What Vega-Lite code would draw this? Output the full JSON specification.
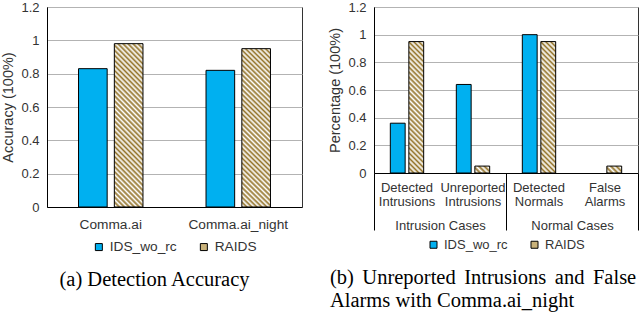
{
"$schema": "https://vega.github.io/schema/vega-lite/v6.json",
"autosize": {"type": "none"},
"params": [{"name": "width", "value": 591}, {"name": "height", "value": 200}],
"padding": {"left": 47, "top": 7, "right": 2, "bottom": 105},
"bounds": "flush",
"background": "white",
"spacing": 72,
"config": {
 "font": "Liberation Sans",
 "view": {"stroke": "#333", "strokeWidth": 1},
 "axis": {"labelFont": "Liberation Sans", "labelFontSize": 13, "labelColor": "#333", "titleFont": "Liberation Sans", "titleFontSize": 14.5, "titleFontWeight": "normal", "titleColor": "#333", "gridColor": "#b3b3b3", "domainColor": "#000", "ticks": false, "tickSize": 0},
 "legend": {"layout": {"anchor": "middle"}},
 "title": {"font": "Liberation Serif", "fontSize": 20.5, "fontWeight": "normal", "color": "#000"}
},
"resolve": {"scale": {"fill": "independent"}, "legend": {"fill": "independent"}},
"hconcat": [
{
 "width": 255, "height": 200,
 "title": {"text": "(a) Detection Accuracy", "orient": "bottom", "anchor": "middle", "offset": 16, "dx": -20},
 "data": {"values": [
  {"dataset": "Comma.ai", "series": "IDS_wo_rc", "value": 0.83},
  {"dataset": "Comma.ai", "series": "RAIDS", "value": 0.98},
  {"dataset": "Comma.ai_night", "series": "IDS_wo_rc", "value": 0.82},
  {"dataset": "Comma.ai_night", "series": "RAIDS", "value": 0.95}
 ]},
 "mark": {"type": "bar", "stroke": "#000", "strokeWidth": 1},
 "encoding": {
  "x": {"field": "dataset", "type": "nominal", "sort": null, "scale": {"paddingInner": 0, "paddingOuter": 0}, "axis": {"title": null, "labelAngle": 0, "labelPadding": 10, "labelFontSize": 13.7}},
  "xOffset": {"field": "series", "type": "nominal", "sort": ["IDS_wo_rc", "RAIDS"], "scale": {"paddingInner": 0.2, "paddingOuter": 0.88}},
  "y": {"field": "value", "type": "quantitative", "scale": {"domain": [0, 1.2]}, "axis": {"title": "Accuracy (100%)", "values": [0, 0.2, 0.4, 0.6, 0.8, 1, 1.2], "format": "~g", "labelPadding": 8, "titlePadding": 5, "grid": true}},
  "fill": {
   "field": "series", "type": "nominal", "sort": ["IDS_wo_rc", "RAIDS"],
   "scale": {"range": ["#00b0f0", "#c9b27a"]},
   "condition": {"test": "datum.series === 'RAIDS'", "value": {"gradient": "linear", "x1": 0, "y1": 1, "x2": 0.2028, "y2": -0.1416, "stops": [
{"offset":0,"color":"#94742a"},{"offset":0.0132,"color":"#ffffff"},{"offset":0.0263,"color":"#94742a"},{"offset":0.0395,"color":"#ffffff"},{"offset":0.0526,"color":"#94742a"},{"offset":0.0658,"color":"#ffffff"},{"offset":0.0789,"color":"#94742a"},{"offset":0.0921,"color":"#ffffff"},{"offset":0.1053,"color":"#94742a"},{"offset":0.1184,"color":"#ffffff"},{"offset":0.1316,"color":"#94742a"},{"offset":0.1447,"color":"#ffffff"},{"offset":0.1579,"color":"#94742a"},{"offset":0.1711,"color":"#ffffff"},{"offset":0.1842,"color":"#94742a"},{"offset":0.1974,"color":"#ffffff"},{"offset":0.2105,"color":"#94742a"},{"offset":0.2237,"color":"#ffffff"},{"offset":0.2368,"color":"#94742a"},{"offset":0.25,"color":"#ffffff"},{"offset":0.2632,"color":"#94742a"},{"offset":0.2763,"color":"#ffffff"},{"offset":0.2895,"color":"#94742a"},{"offset":0.3026,"color":"#ffffff"},{"offset":0.3158,"color":"#94742a"},{"offset":0.3289,"color":"#ffffff"},{"offset":0.3421,"color":"#94742a"},{"offset":0.3553,"color":"#ffffff"},{"offset":0.3684,"color":"#94742a"},{"offset":0.3816,"color":"#ffffff"},{"offset":0.3947,"color":"#94742a"},{"offset":0.4079,"color":"#ffffff"},{"offset":0.4211,"color":"#94742a"},{"offset":0.4342,"color":"#ffffff"},{"offset":0.4474,"color":"#94742a"},{"offset":0.4605,"color":"#ffffff"},{"offset":0.4737,"color":"#94742a"},{"offset":0.4868,"color":"#ffffff"},{"offset":0.5,"color":"#94742a"},{"offset":0.5132,"color":"#ffffff"},{"offset":0.5263,"color":"#94742a"},{"offset":0.5395,"color":"#ffffff"},{"offset":0.5526,"color":"#94742a"},{"offset":0.5658,"color":"#ffffff"},{"offset":0.5789,"color":"#94742a"},{"offset":0.5921,"color":"#ffffff"},{"offset":0.6053,"color":"#94742a"},{"offset":0.6184,"color":"#ffffff"},{"offset":0.6316,"color":"#94742a"},{"offset":0.6447,"color":"#ffffff"},{"offset":0.6579,"color":"#94742a"},{"offset":0.6711,"color":"#ffffff"},{"offset":0.6842,"color":"#94742a"},{"offset":0.6974,"color":"#ffffff"},{"offset":0.7105,"color":"#94742a"},{"offset":0.7237,"color":"#ffffff"},{"offset":0.7368,"color":"#94742a"},{"offset":0.75,"color":"#ffffff"},{"offset":0.7632,"color":"#94742a"},{"offset":0.7763,"color":"#ffffff"},{"offset":0.7895,"color":"#94742a"},{"offset":0.8026,"color":"#ffffff"},{"offset":0.8158,"color":"#94742a"},{"offset":0.8289,"color":"#ffffff"},{"offset":0.8421,"color":"#94742a"},{"offset":0.8553,"color":"#ffffff"},{"offset":0.8684,"color":"#94742a"},{"offset":0.8816,"color":"#ffffff"},{"offset":0.8947,"color":"#94742a"},{"offset":0.9079,"color":"#ffffff"},{"offset":0.9211,"color":"#94742a"},{"offset":0.9342,"color":"#ffffff"},{"offset":0.9474,"color":"#94742a"},{"offset":0.9605,"color":"#ffffff"},{"offset":0.9737,"color":"#94742a"},{"offset":0.9868,"color":"#ffffff"},{"offset":1,"color":"#94742a"}
   ]}},
   "legend": {"title": null, "orient": "bottom", "direction": "horizontal", "symbolType": "square", "symbolSize": 49, "symbolStrokeColor": "#000", "symbolStrokeWidth": 1, "labelFontSize": 13.7, "labelColor": "#333", "columnPadding": 20, "labelOffset": 4, "offset": 9,
    "encode": {"symbols": {"update": {"stroke": {"value": "#000"}, "strokeWidth": {"value": 1}, "fill": [{"test": "datum.value === 'RAIDS'", "value": {"gradient": "linear", "x1": 0, "y1": 1, "x2": 1, "y2": 0, "stops": [{"offset":0,"color":"#94742a"},{"offset":0.1667,"color":"#ffffff"},{"offset":0.3333,"color":"#94742a"},{"offset":0.5,"color":"#ffffff"},{"offset":0.6667,"color":"#94742a"},{"offset":0.8333,"color":"#ffffff"},{"offset":1,"color":"#94742a"}]}}, {"value": "#00b0f0"}]}}}
   }
  }
 }
},
{
 "width": 264, "height": 166,
 "title": {"text": ["(b) \u2006Unreported \u2006Intrusions \u2006and \u2006False", "Alarms with Comma.ai_night"], "orient": "bottom", "anchor": "start", "offset": 16, "dx": 2, "lineHeight": 23},
 "data": {"values": [
  {"group": "Intrusion Cases", "case": "Detected Intrusions", "series": "IDS_wo_rc", "value": 0.36},
  {"group": "Intrusion Cases", "case": "Detected Intrusions", "series": "RAIDS", "value": 0.95},
  {"group": "Intrusion Cases", "case": "Unreported Intrusions", "series": "IDS_wo_rc", "value": 0.64},
  {"group": "Intrusion Cases", "case": "Unreported Intrusions", "series": "RAIDS", "value": 0.05},
  {"group": "Normal Cases", "case": "Detected Normals", "series": "IDS_wo_rc", "value": 1.0},
  {"group": "Normal Cases", "case": "Detected Normals", "series": "RAIDS", "value": 0.95},
  {"group": "Normal Cases", "case": "False Alarms", "series": "IDS_wo_rc", "value": 0},
  {"group": "Normal Cases", "case": "False Alarms", "series": "RAIDS", "value": 0.05}
 ]},
 "encoding": {
  "y": {"field": "value", "type": "quantitative", "scale": {"domain": [0, 1.2]}, "axis": {"title": "Percentage (100%)", "values": [0, 0.2, 0.4, 0.6, 0.8, 1, 1.2], "format": "~g", "labelPadding": 8, "titlePadding": 5, "grid": true}}
 },
 "layer": [
  {
   "mark": {"type": "bar", "stroke": "#000", "strokeWidth": 1},
   "encoding": {
    "x": {"field": "case", "type": "nominal", "sort": ["Detected Intrusions", "Unreported Intrusions", "Detected Normals", "False Alarms"], "scale": {"paddingInner": 0, "paddingOuter": 0}, "axis": {"title": null, "labelAngle": 0, "labelExpr": "split(datum.label, ' ')", "labelLineHeight": 14, "labelPadding": 8}},
    "xOffset": {"field": "series", "type": "nominal", "sort": ["IDS_wo_rc", "RAIDS"], "scale": {"paddingInner": 0.2, "paddingOuter": 0.88}},
    "strokeOpacity": {"condition": {"test": "datum.value === 0", "value": 0}, "value": 1},
    "fill": {
     "field": "series", "type": "nominal", "sort": ["IDS_wo_rc", "RAIDS"],
     "scale": {"range": ["#00b0f0", "#c9b27a"]},
     "condition": [
      {"test": "datum.series === 'RAIDS' && datum.value > 0.5", "value": {"gradient": "linear", "x1": 0, "y1": 1, "x2": 0.1237, "y2": -0.0987, "stops": [
{"offset":0,"color":"#94742a"},{"offset":0.0172,"color":"#ffffff"},{"offset":0.0345,"color":"#94742a"},{"offset":0.0517,"color":"#ffffff"},{"offset":0.069,"color":"#94742a"},{"offset":0.0862,"color":"#ffffff"},{"offset":0.1034,"color":"#94742a"},{"offset":0.1207,"color":"#ffffff"},{"offset":0.1379,"color":"#94742a"},{"offset":0.1552,"color":"#ffffff"},{"offset":0.1724,"color":"#94742a"},{"offset":0.1897,"color":"#ffffff"},{"offset":0.2069,"color":"#94742a"},{"offset":0.2241,"color":"#ffffff"},{"offset":0.2414,"color":"#94742a"},{"offset":0.2586,"color":"#ffffff"},{"offset":0.2759,"color":"#94742a"},{"offset":0.2931,"color":"#ffffff"},{"offset":0.3103,"color":"#94742a"},{"offset":0.3276,"color":"#ffffff"},{"offset":0.3448,"color":"#94742a"},{"offset":0.3621,"color":"#ffffff"},{"offset":0.3793,"color":"#94742a"},{"offset":0.3966,"color":"#ffffff"},{"offset":0.4138,"color":"#94742a"},{"offset":0.431,"color":"#ffffff"},{"offset":0.4483,"color":"#94742a"},{"offset":0.4655,"color":"#ffffff"},{"offset":0.4828,"color":"#94742a"},{"offset":0.5,"color":"#ffffff"},{"offset":0.5172,"color":"#94742a"},{"offset":0.5345,"color":"#ffffff"},{"offset":0.5517,"color":"#94742a"},{"offset":0.569,"color":"#ffffff"},{"offset":0.5862,"color":"#94742a"},{"offset":0.6034,"color":"#ffffff"},{"offset":0.6207,"color":"#94742a"},{"offset":0.6379,"color":"#ffffff"},{"offset":0.6552,"color":"#94742a"},{"offset":0.6724,"color":"#ffffff"},{"offset":0.6897,"color":"#94742a"},{"offset":0.7069,"color":"#ffffff"},{"offset":0.7241,"color":"#94742a"},{"offset":0.7414,"color":"#ffffff"},{"offset":0.7586,"color":"#94742a"},{"offset":0.7759,"color":"#ffffff"},{"offset":0.7931,"color":"#94742a"},{"offset":0.8103,"color":"#ffffff"},{"offset":0.8276,"color":"#94742a"},{"offset":0.8448,"color":"#ffffff"},{"offset":0.8621,"color":"#94742a"},{"offset":0.8793,"color":"#ffffff"},{"offset":0.8966,"color":"#94742a"},{"offset":0.9138,"color":"#ffffff"},{"offset":0.931,"color":"#94742a"},{"offset":0.9483,"color":"#ffffff"},{"offset":0.9655,"color":"#94742a"},{"offset":0.9828,"color":"#ffffff"},{"offset":1,"color":"#94742a"}
      ]}},
      {"test": "datum.series === 'RAIDS'", "value": {"gradient": "linear", "x1": 0, "y1": 1, "x2": 1.205, "y2": 0.4383, "stops": [{"offset":0,"color":"#94742a"},{"offset":0.125,"color":"#ffffff"},{"offset":0.25,"color":"#94742a"},{"offset":0.375,"color":"#ffffff"},{"offset":0.5,"color":"#94742a"},{"offset":0.625,"color":"#ffffff"},{"offset":0.75,"color":"#94742a"},{"offset":0.875,"color":"#ffffff"},{"offset":1,"color":"#94742a"}]}}
     ],
     "legend": {"title": null, "orient": "bottom", "direction": "horizontal", "symbolType": "square", "symbolSize": 49, "symbolStrokeColor": "#000", "symbolStrokeWidth": 1, "labelFontSize": 13, "labelColor": "#333", "columnPadding": 20, "labelOffset": 4, "offset": 6,
      "encode": {"symbols": {"update": {"stroke": {"value": "#000"}, "strokeWidth": {"value": 1}, "fill": [{"test": "datum.value === 'RAIDS'", "value": {"gradient": "linear", "x1": 0, "y1": 1, "x2": 1, "y2": 0, "stops": [{"offset":0,"color":"#94742a"},{"offset":0.1667,"color":"#ffffff"},{"offset":0.3333,"color":"#94742a"},{"offset":0.5,"color":"#ffffff"},{"offset":0.6667,"color":"#94742a"},{"offset":0.8333,"color":"#ffffff"},{"offset":1,"color":"#94742a"}]}}, {"value": "#00b0f0"}]}}}
     }
    }
   }
  },
  {
   "mark": {"type": "bar", "opacity": 0},
   "encoding": {
    "x": {"field": "group", "type": "nominal", "sort": ["Intrusion Cases", "Normal Cases"], "scale": {"paddingInner": 0, "paddingOuter": 0}, "axis": {"title": null, "orient": "bottom", "labelAngle": 0, "domain": false, "grid": false, "ticks": true, "tickBand": "extent", "tickSize": 57, "tickColor": "#000", "tickWidth": 1, "labelPadding": -11}}
   }
  }
 ],
 "resolve": {"scale": {"x": "independent", "xOffset": "independent"}, "axis": {"x": "independent"}}
}
]
}
